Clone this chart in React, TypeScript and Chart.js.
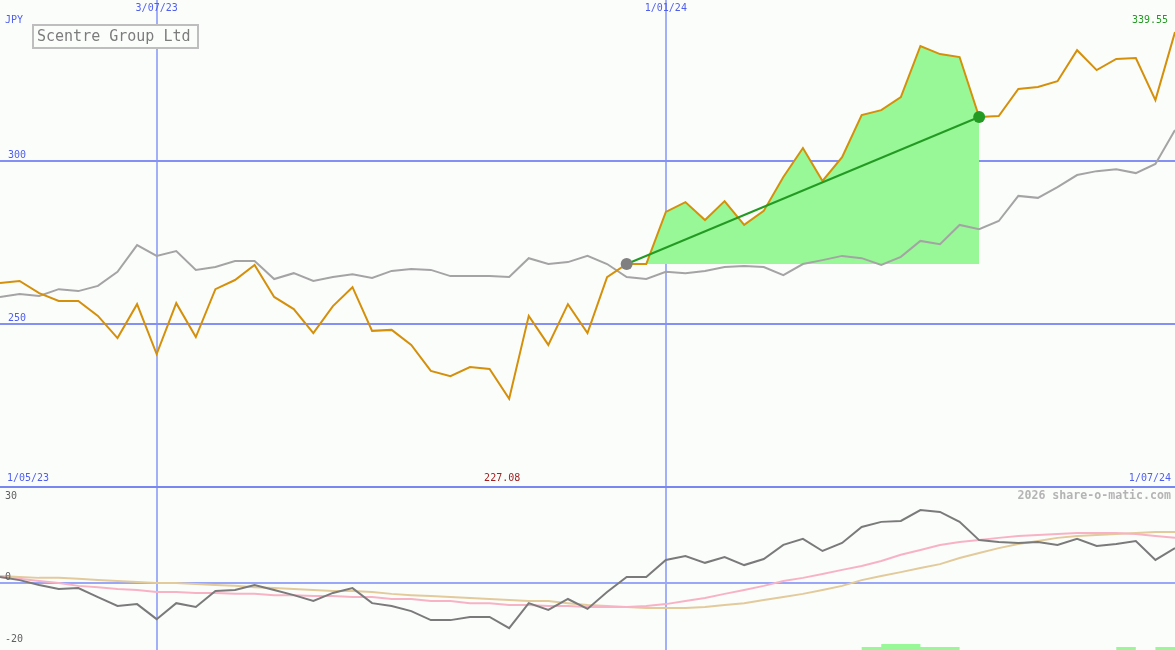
import React, { useEffect, useRef } from "react";
import { Chart, registerables } from "chart.js";

Chart.register(...registerables);

// ---- data (weekly, index 0 = first week of May 2023) ----
const priceValues = [
  262.6, 263.2, 259.5, 257.1, 257.1, 252.5, 245.7, 256.1, 240.8, 256.4,
  246.0, 260.7, 263.5, 268.1, 258.3, 254.6, 247.2, 255.5, 261.3, 247.9,
  248.2, 243.6, 235.6, 234.0, 236.8, 236.2, 227.08, 252.5, 243.6, 256.1,
  247.2, 264.4, 268.4, 268.4, 284.4, 287.4, 281.9, 287.7, 280.4, 284.7,
  295.1, 304.0, 293.9, 301.2, 314.1, 315.6, 319.6, 335.3, 332.8, 331.9,
  313.5, 313.8, 322.1, 322.7, 324.5, 334.0, 327.9, 331.3, 331.6, 318.7,
  339.55,
];

const compareValues = [
  258.3, 259.2, 258.6, 260.7, 260.1, 261.7, 266.0, 274.2, 270.9, 272.4,
  266.6, 267.5, 269.3, 269.3, 263.8, 265.6, 263.2, 264.4, 265.3, 264.1,
  266.3, 266.9, 266.6, 264.7, 264.7, 264.7, 264.4, 270.2, 268.4, 269.0,
  270.9, 268.4, 264.4, 263.8, 266.0, 265.6, 266.3, 267.5, 267.8, 267.5,
  265.0, 268.4, 269.6, 270.9, 270.2, 268.1, 270.6, 275.5, 274.5, 280.4,
  279.1, 281.6, 289.3, 288.7, 292.0, 295.7, 296.9, 297.5, 296.3, 299.1,
  309.5,
];

const momentumValues = [
  1.9, 0.9, -0.6, -1.9, -1.6, -4.4, -7.2, -6.6, -11.3, -6.3,
  -7.5, -2.5, -2.2, -0.6, -2.2, -3.8, -5.6, -3.1, -1.6, -6.3,
  -7.2, -8.8, -11.6, -11.6, -10.6, -10.6, -14.1, -6.3, -8.4, -5.0,
  -8.1, -2.8, 1.9, 1.9, 7.2, 8.4, 6.3, 8.1, 5.6, 7.5,
  11.9, 13.8, 10.0, 12.5, 17.5, 19.1, 19.4, 22.8, 22.2, 19.1,
  13.4, 12.8, 12.5, 12.8, 11.9, 13.8, 11.6, 12.2, 13.1, 7.2,
  10.9,
];

const fastAverage = [
  1.9, 1.3, 0.6, 0.0, -0.9, -1.3, -1.9, -2.2, -2.8, -2.8,
  -3.1, -3.1, -3.4, -3.4, -3.8, -3.8, -4.1, -4.1, -4.4, -4.4,
  -5.0, -5.0, -5.6, -5.6, -6.3, -6.3, -6.9, -6.9, -7.2, -7.2,
  -7.5, -7.5, -7.5, -7.2, -6.6, -5.6, -4.7, -3.4, -2.2, -0.9,
  0.6, 1.6, 2.8, 4.1, 5.3, 6.9, 8.8, 10.3, 11.9, 12.8,
  13.4, 14.1, 14.7, 15.0, 15.3, 15.6, 15.6, 15.6, 15.3, 14.7,
  14.1,
];

const slowAverage = [
  2.2, 1.9, 1.6, 1.6, 1.3, 0.9, 0.6, 0.3, 0.0, 0.0,
  -0.3, -0.6, -0.9, -1.3, -1.6, -1.9, -2.2, -2.5, -2.5, -2.8,
  -3.4, -3.8, -4.1, -4.4, -4.7, -5.0, -5.3, -5.6, -5.6, -6.3,
  -6.9, -7.2, -7.5, -7.8, -7.8, -7.8, -7.5, -6.9, -6.3, -5.3,
  -4.4, -3.4, -2.2, -0.9, 0.9, 2.2, 3.4, 4.7, 5.9, 7.8,
  9.4, 10.9, 12.2, 13.1, 14.1, 14.7, 15.0, 15.3, 15.6, 15.9,
  15.9,
];

const signalBars = [
  0, 0, 0, 0, 0, 0, 0, 0, 0, 0,
  0, 0, 0, 0, 0, 0, 0, 0, 0, 0,
  0, 0, 0, 0, 0, 0, 0, 0, 0, 0,
  0, 0, 0, 0, 0, 0, 0, 0, 0, 0,
  0, 0, 0, 0, 1, 2, 2, 1, 1, 0,
  0, 0, 0, 0, 0, 0, 0, 1, 0, 1,
  0,
];

const trendStartIndex = 32;
const trendEndIndex = 50;

const dateMarks = [
  { index: 8, label: "3/07/23" },
  { index: 34, label: "1/01/24" },
];
const firstDateLabel = "1/05/23";
const lastDateLabel = "1/07/24";
const priceGridValues = [250, 300];
const lowerTickValues = [30, 0, -20];
const title = "Scentre Group Ltd";
const currency = "JPY";
const credit = "2026 share-o-matic.com";

const lowValue = Math.min(...priceValues);
const lowIndex = priceValues.indexOf(lowValue);
const lastValue = priceValues[priceValues.length - 1];

const pts = (arr: number[]) => arr.map((v, i) => ({ x: i, y: v }));

const overlayPlugin = {
  id: "overlay",
  beforeDraw(chart: any) {
    const { ctx, width, height } = chart;
    ctx.save();
    ctx.fillStyle = "#FBFDFB";
    ctx.fillRect(0, 0, width, height);
    ctx.restore();
  },
  beforeDatasetsDraw(chart: any) {
    const { ctx, chartArea } = chart;
    const x = chart.scales.x;
    const y = chart.scales.y;
    const y2 = chart.scales.y2;
    ctx.save();
    ctx.strokeStyle = "#A2B0FA";
    ctx.lineWidth = 2;
    for (const m of dateMarks) {
      const px = Math.round(x.getPixelForValue(m.index));
      ctx.beginPath();
      ctx.moveTo(px, chartArea.top);
      ctx.lineTo(px, chartArea.bottom);
      ctx.stroke();
    }
    ctx.strokeStyle = "#8490F4";
    ctx.lineWidth = 2;
    for (const v of priceGridValues) {
      const py = Math.round(y.getPixelForValue(v));
      ctx.beginPath();
      ctx.moveTo(chartArea.left, py);
      ctx.lineTo(chartArea.right, py);
      ctx.stroke();
    }
    ctx.strokeStyle = "#7888F0";
    ctx.lineWidth = 2;
    const sep = Math.round(y2.getPixelForValue(lowerTickValues[0]));
    ctx.beginPath();
    ctx.moveTo(chartArea.left, sep);
    ctx.lineTo(chartArea.right, sep);
    ctx.stroke();
    ctx.strokeStyle = "#9AA6F8";
    const zero = Math.round(y2.getPixelForValue(0));
    ctx.beginPath();
    ctx.moveTo(chartArea.left, zero);
    ctx.lineTo(chartArea.right, zero);
    ctx.stroke();
    ctx.restore();
  },
  afterDraw(chart: any) {
    const { ctx, chartArea } = chart;
    const x = chart.scales.x;
    const y = chart.scales.y;
    const y2 = chart.scales.y2;
    const mono = '"DejaVu Sans Mono", monospace';
    ctx.save();
    ctx.textBaseline = "middle";
    ctx.font = `10px ${mono}`;
    ctx.fillStyle = "#4F5EEE";
    ctx.textAlign = "center";
    for (const m of dateMarks) {
      ctx.fillText(m.label, x.getPixelForValue(m.index), 8);
    }
    ctx.textAlign = "left";
    ctx.fillText(currency, 5, 20);
    for (const v of priceGridValues) {
      ctx.fillText(String(v), 8, y.getPixelForValue(v) - 6);
    }
    const sep = y2.getPixelForValue(lowerTickValues[0]);
    ctx.fillText(firstDateLabel, 7, sep - 9);
    ctx.textAlign = "right";
    ctx.fillText(lastDateLabel, chartArea.right - 4, sep - 9);
    ctx.fillStyle = "#229922";
    ctx.fillText(lastValue.toFixed(2), chartArea.right - 7, 20);
    ctx.fillStyle = "#A02222";
    ctx.textAlign = "center";
    ctx.fillText(lowValue.toFixed(2), x.getPixelForValue(lowIndex) - 7, sep - 9);
    ctx.fillStyle = "#606060";
    ctx.textAlign = "left";
    ctx.fillText(String(lowerTickValues[0]), 5, sep + 9);
    ctx.fillText(String(lowerTickValues[1]), 5, y2.getPixelForValue(0) - 6);
    ctx.fillText(String(lowerTickValues[2]), 5, y2.getPixelForValue(-20) - 8);
    ctx.font = `bold 11.6px ${mono}`;
    ctx.fillStyle = "#B4B4B4";
    ctx.textAlign = "right";
    ctx.fillText(credit, chartArea.right - 4, sep + 9);
    ctx.fillStyle = "#FBFDFB";
    ctx.fillRect(33, 25, 165, 23);
    ctx.strokeStyle = "#BEBEBE";
    ctx.lineWidth = 2;
    ctx.strokeRect(33, 25, 165, 23);
    ctx.font = `15px ${mono}`;
    ctx.fillStyle = "#7C7C7C";
    ctx.textAlign = "left";
    ctx.fillText(title, 37, 37);
    ctx.restore();
  },
};

export default function App() {
  const ref = useRef<HTMLCanvasElement | null>(null);
  useEffect(() => {
    document.body.style.margin = "0";
    const canvas = ref.current;
    if (!canvas) return;

    const fillData = priceValues.map((v, i) =>
      i >= trendStartIndex && i <= trendEndIndex ? { x: i, y: v } : { x: i, y: null }
    );
    const trendData = [
      { x: trendStartIndex, y: priceValues[trendStartIndex] },
      { x: trendEndIndex, y: priceValues[trendEndIndex] },
    ];

    const chart = new Chart(canvas, {
      type: "line",
      data: {
        datasets: [
          {
            label: "end",
            data: [trendData[1]],
            showLine: false,
            pointRadius: 6,
            pointBackgroundColor: "#239B23",
            pointBorderWidth: 0,
            yAxisID: "y",
          },
          {
            label: "start",
            data: [trendData[0]],
            showLine: false,
            pointRadius: 6,
            pointBackgroundColor: "#808080",
            pointBorderWidth: 0,
            yAxisID: "y",
          },
          {
            label: "trend",
            data: trendData,
            borderColor: "#239B23",
            borderWidth: 2,
            pointRadius: 0,
            yAxisID: "y",
          },
          {
            label: "price",
            data: pts(priceValues),
            borderColor: "#D4900A",
            borderWidth: 2,
            pointRadius: 0,
            yAxisID: "y",
          },
          {
            label: "compare",
            data: pts(compareValues),
            borderColor: "#A4A4A4",
            borderWidth: 2,
            pointRadius: 0,
            yAxisID: "y",
          },
          {
            label: "gain",
            data: fillData as any,
            borderWidth: 0,
            borderColor: "rgba(0,0,0,0)",
            backgroundColor: "#98F898",
            pointRadius: 0,
            fill: { value: priceValues[trendStartIndex] },
            spanGaps: false,
            yAxisID: "y",
          },
          {
            label: "momentum",
            data: pts(momentumValues),
            borderColor: "#7A7A7A",
            borderWidth: 2,
            pointRadius: 0,
            yAxisID: "y2",
          },
          {
            label: "fast",
            data: pts(fastAverage),
            borderColor: "#F8B2C6",
            borderWidth: 2,
            pointRadius: 0,
            yAxisID: "y2",
          },
          {
            label: "slow",
            data: pts(slowAverage),
            borderColor: "#E2CA9A",
            borderWidth: 2,
            pointRadius: 0,
            yAxisID: "y2",
          },
          {
            label: "signal",
            data: pts(signalBars),
            stepped: "before",
            borderWidth: 0,
            borderColor: "rgba(0,0,0,0)",
            backgroundColor: "#98F898",
            pointRadius: 0,
            fill: "origin",
            yAxisID: "y3",
          },
        ],
      },
      options: {
        responsive: false,
        animation: false,
        maintainAspectRatio: false,
        layout: { padding: 0, autoPadding: false },
        plugins: {
          legend: { display: false },
          tooltip: { enabled: false },
          filler: { propagate: false },
        },
        elements: { line: { tension: 0 } },
        scales: {
          x: { type: "linear", min: 0, max: priceValues.length - 1, display: false },
          y: { type: "linear", min: 150, max: 349.4, display: false },
          y2: { type: "linear", min: -20.94, max: 182.19, display: false },
          y3: { type: "linear", min: 0, max: 216.7, display: false },
        },
      },
      plugins: [overlayPlugin],
    });
    return () => chart.destroy();
  }, []);

  return (
    <canvas
      ref={ref}
      width={1175}
      height={650}
      style={{ display: "block", width: 1175, height: 650 }}
    />
  );
}
